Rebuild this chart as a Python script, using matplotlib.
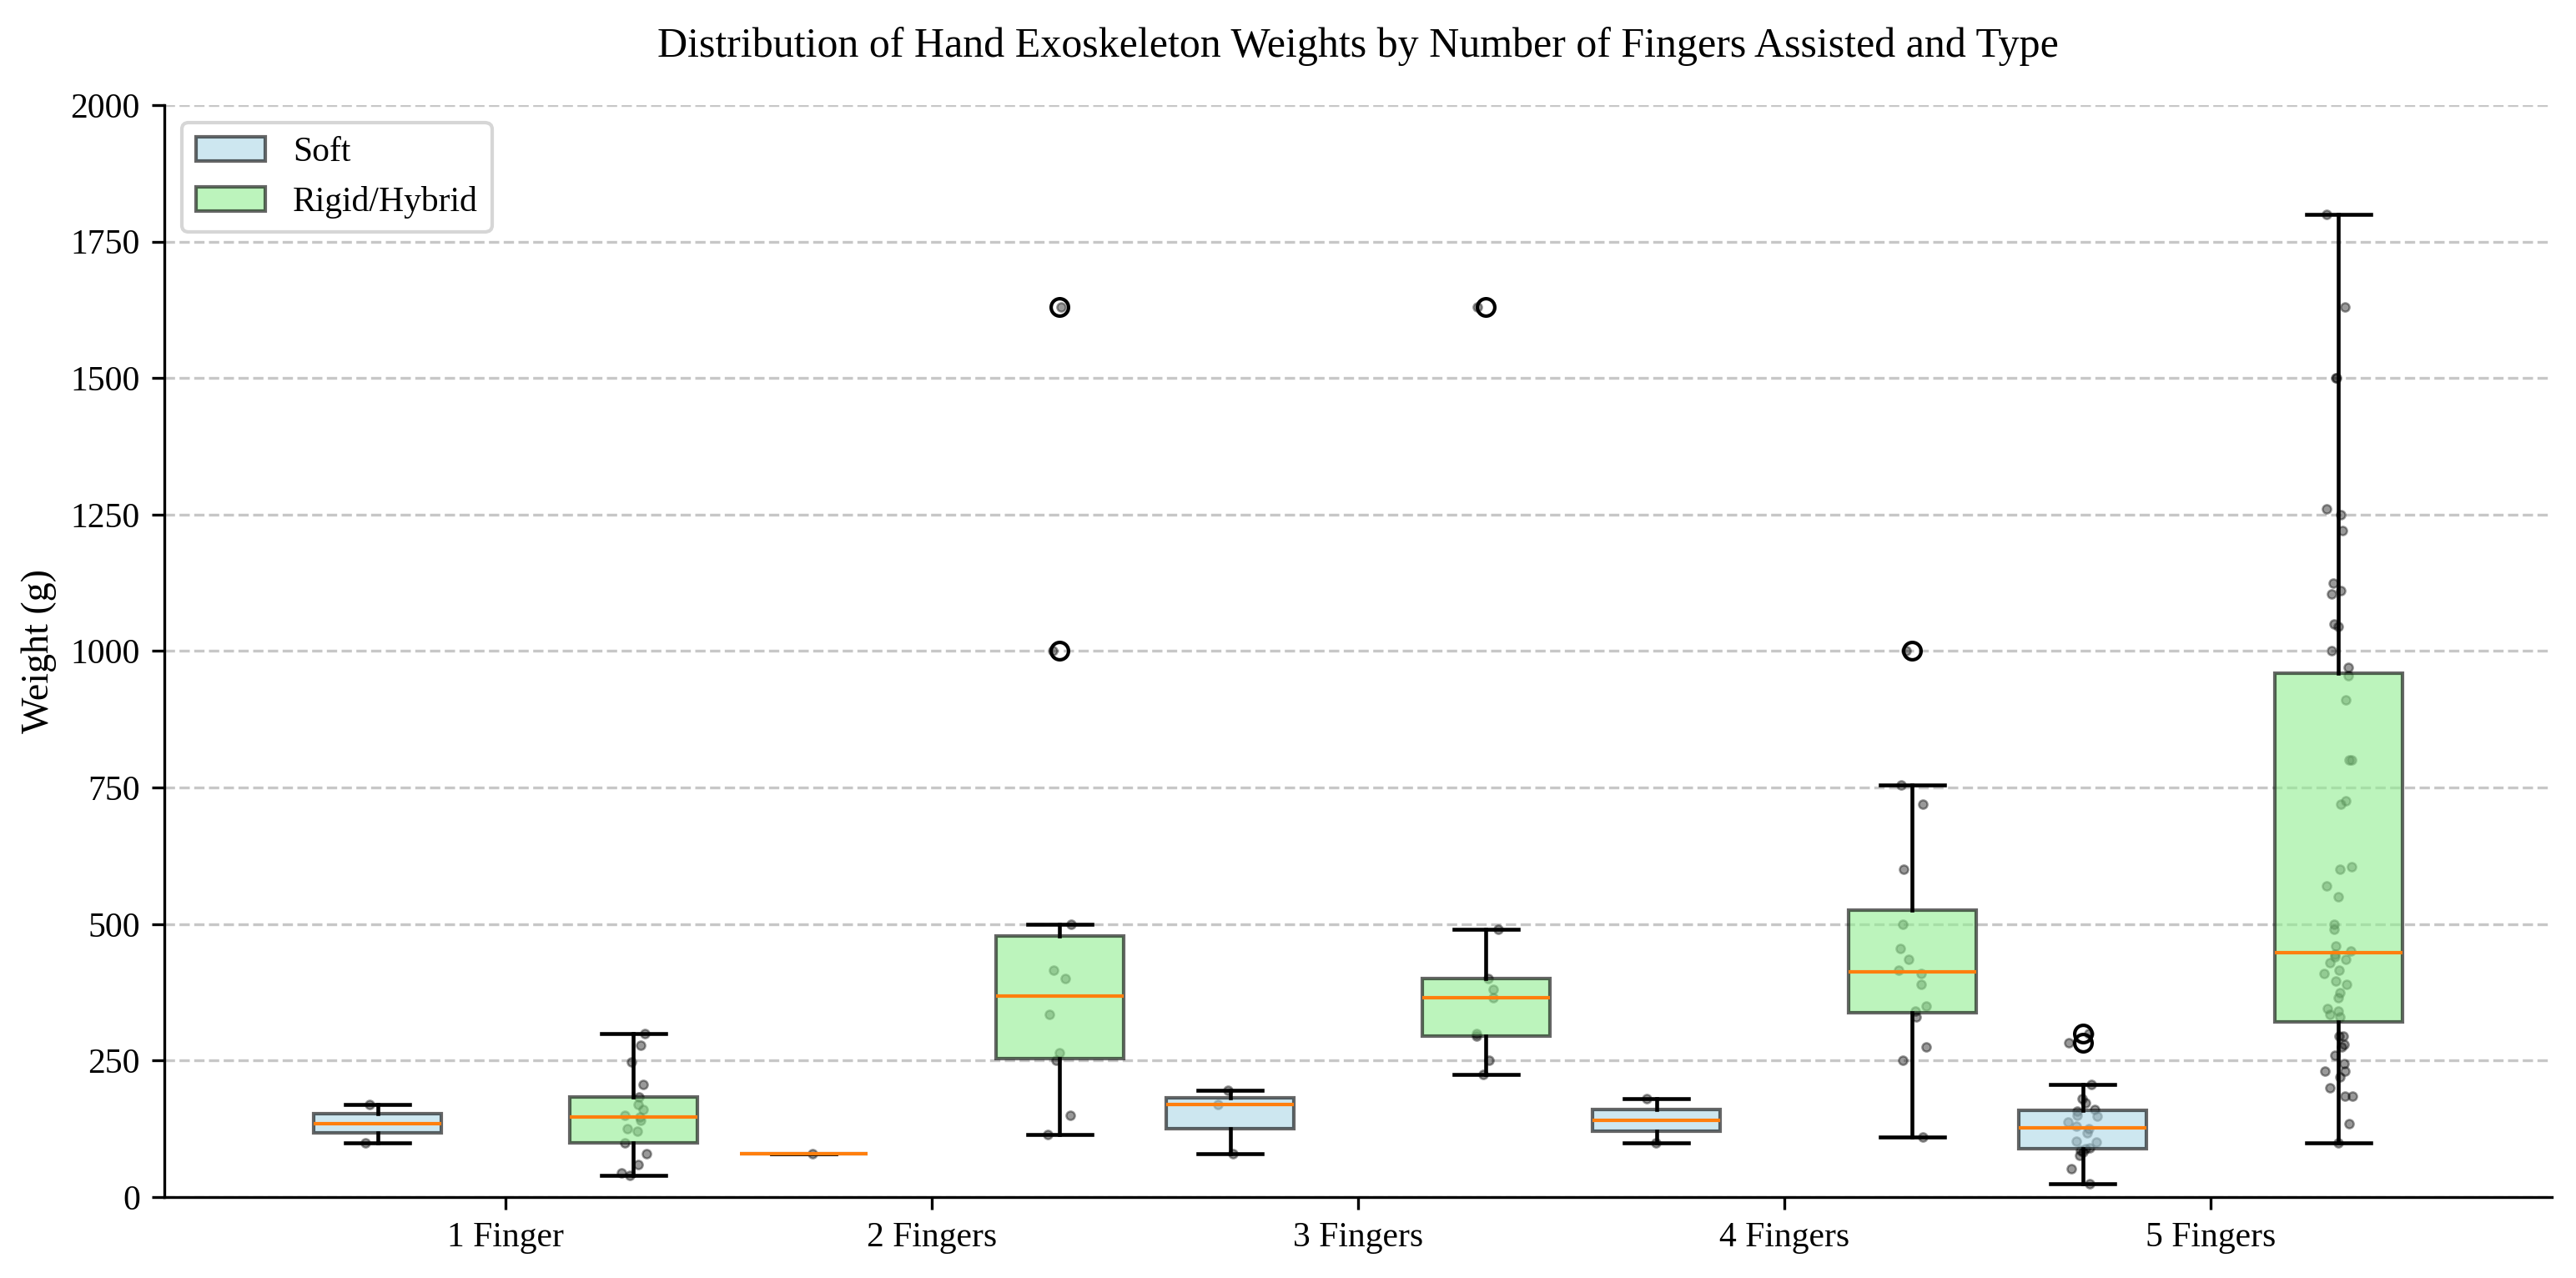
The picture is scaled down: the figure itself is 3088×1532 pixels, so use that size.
import numpy as np
import matplotlib
matplotlib.use("Agg")
import matplotlib.pyplot as plt
from matplotlib.patches import Patch

plt.rcParams['font.family'] = ['Liberation Serif', 'DejaVu Serif']
plt.rcParams['font.size'] = 10

# weights in grams
categories = ['1 Finger', '2 Fingers', '3 Fingers', '4 Fingers', '5 Fingers']

soft_1 = [100, 170]
soft_2 = [80]
soft_3 = [80, 170, 195]
soft_4 = [100, 180]
soft_5 = [25, 52, 77, 82, 85, 88, 90, 101, 102, 118, 125, 130, 137, 148, 150,
          158, 160, 173, 180, 207, 283, 300]

rigid_1 = [40, 45, 60, 80, 100, 120, 125, 140, 147, 150, 160, 170, 183, 207,
           247, 278, 299]
rigid_2 = [115, 150, 250, 265, 335, 400, 415, 500, 1000, 1630]
rigid_3 = [225, 250, 295, 300, 365, 380, 400, 490, 1630]
rigid_4 = [110, 250, 275, 330, 340, 350, 390, 410, 415, 435, 455, 500, 600,
           720, 755, 1000]
rigid_5 = [100, 135, 185, 185, 200, 220, 230, 230, 245, 260, 275, 280, 295, 295,
           330, 335, 340, 345, 365, 375, 390, 395, 410, 415, 430, 435, 440, 445,
           450, 460, 490, 500, 550, 570, 600, 605, 720, 725, 800, 800, 910, 955,
           970, 1000, 1045, 1050, 1105, 1110, 1125, 1220, 1250, 1260, 1500, 1500,
           1630, 1800]

soft = [soft_1, soft_2, soft_3, soft_4, soft_5]
rigid = [rigid_1, rigid_2, rigid_3, rigid_4, rigid_5]

x = np.arange(1, len(categories) + 1)
offset = 0.3
width = 0.3

fig = plt.figure(figsize=(3088 / 300, 1532 / 300), dpi=300)
ax = fig.add_axes([0.0638, 0.0633, 0.9268, 0.8545])

common = dict(widths=width, patch_artist=True, manage_ticks=False,
              medianprops=dict(color='#ff7f0e', linewidth=1.0),
              whiskerprops=dict(color='black', linewidth=1.1),
              capprops=dict(color='black', linewidth=1.1),
              flierprops=dict(marker='o', markerfacecolor='none',
                              markeredgecolor='black', markersize=5,
                              markeredgewidth=1.0))

bp_soft = ax.boxplot(soft, positions=x - offset,
                     boxprops=dict(facecolor='lightblue', edgecolor='black',
                                   alpha=0.6, linewidth=1.0), **common)
bp_rigid = ax.boxplot(rigid, positions=x + offset,
                      boxprops=dict(facecolor='lightgreen', edgecolor='black',
                                    alpha=0.6, linewidth=1.0), **common)
for b in bp_soft['boxes'] + bp_rigid['boxes']:
    b.set_zorder(2)

# jittered raw points, drawn underneath the boxes
rng = np.random.default_rng(3)
for pos, vals in zip(np.concatenate([x - offset, x + offset]), soft + rigid):
    jit = rng.uniform(-0.035, 0.035, len(vals))
    ax.scatter(pos + jit, vals, s=6, color='black', alpha=0.4, zorder=1,
               linewidths=0.6)

ax.set_xlim(0.2, 5.8)
ax.set_ylim(0, 2000)
ax.set_xticks(x)
ax.set_xticklabels(categories)
ax.set_yticks(np.arange(0, 2001, 250))
ax.set_ylabel('Weight (g)', fontsize=11)
ax.set_title('Distribution of Hand Exoskeleton Weights by Number of Fingers Assisted and Type',
             fontsize=12, pad=14)

ax.grid(axis='y', linestyle='--', color='#b0b0b0', alpha=0.7, linewidth=0.8)
ax.set_axisbelow(True)
ax.spines['top'].set_visible(False)
ax.spines['right'].set_visible(False)

handles = [Patch(facecolor='lightblue', edgecolor='black', alpha=0.6, label='Soft'),
           Patch(facecolor='lightgreen', edgecolor='black', alpha=0.6, label='Rigid/Hybrid')]
ax.legend(handles=handles, loc='upper left', fontsize=10)

fig.savefig('out.png', dpi=300)
